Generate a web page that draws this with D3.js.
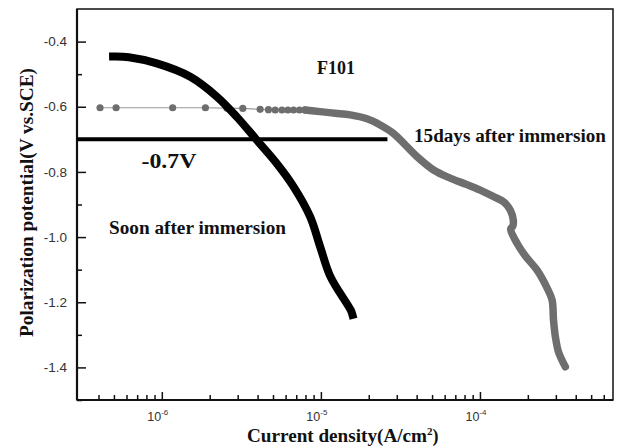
<!DOCTYPE html>
<html>
<head>
<meta charset="utf-8">
<script src="https://cdn.jsdelivr.net/npm/d3@7"></script>
<style>
  html, body { margin: 0; padding: 0; background: #fff; }
  svg { display: block; }
</style>
</head>
<body>
<svg id="chart" width="619" height="447"></svg>
<script>
// Polarization curves of F101: current density (A/cm²) vs. potential (V vs. SCE)

// Soon after immersion (black curve)
const soonCurrent = [4.94e-7, 6.2e-7, 9.3e-7, 1.51e-6, 2.22e-6, 2.96e-6, 3.95e-6, 5.28e-6, 6.73e-6, 8.57e-6, 9.9e-6, 1.15e-5, 1.54e-5, 1.58e-5];
const soonPotential = [-0.446, -0.448, -0.467, -0.508, -0.569, -0.631, -0.702, -0.774, -0.845, -0.938, -1.030, -1.122, -1.224, -1.239];

// 15 days after immersion: sparse measured points near the start
const lateDotCurrent = [4.09e-7, 5.16e-7, 1.17e-6, 1.88e-6, 2.56e-6, 3.23e-6, 4.15e-6, 4.68e-6, 5.16e-6, 5.69e-6, 6.20e-6, 6.73e-6, 7.33e-6, 7.96e-6];
const lateDotPotential = [-0.603, -0.603, -0.603, -0.603, -0.604, -0.605, -0.608, -0.609, -0.610, -0.610, -0.610, -0.610, -0.610, -0.610];

// 15 days after immersion: dense part of the curve
const lateCurrent = [7.96e-6, 9.89e-6, 1.23e-5, 1.53e-5, 1.95e-5, 2.36e-5, 2.86e-5, 3.39e-5, 4.02e-5, 5.11e-5, 6.50e-5, 8.28e-5, 1.004e-4, 1.22e-4, 1.41e-4, 1.55e-4, 1.62e-4, 1.61e-4, 1.56e-4, 1.71e-4, 1.93e-4, 2.28e-4, 2.64e-4, 2.84e-4, 2.90e-4, 2.98e-4, 3.12e-4, 3.44e-4];
const latePotential = [-0.610, -0.615, -0.620, -0.625, -0.637, -0.656, -0.682, -0.717, -0.753, -0.794, -0.819, -0.839, -0.856, -0.876, -0.892, -0.917, -0.948, -0.966, -0.975, -1.019, -1.058, -1.101, -1.156, -1.193, -1.255, -1.306, -1.353, -1.398];

// Reference potential line at -0.7 V
const refPotential = -0.7;
const refCurrentRange = [2.93e-7, 2.62e-5];

// Axis ticks
const yMajorTicks = [-0.4, -0.6, -0.8, -1.0, -1.2, -1.4];
const yMinorTicks = [-0.5, -0.7, -0.9, -1.1, -1.3, -1.5];
const xMajorExponents = [-6, -5, -4];
const xMinorTicks = [4e-7, 5e-7, 6e-7, 7e-7, 8e-7, 9e-7,
  2e-6, 3e-6, 4e-6, 5e-6, 6e-6, 7e-6, 8e-6, 9e-6,
  2e-5, 3e-5, 4e-5, 5e-5, 6e-5, 7e-5, 8e-5, 9e-5,
  2e-4, 3e-4, 4e-4, 5e-4, 6e-4];

const svg = d3.select("#chart");
const plotLeft = 77, plotRight = 613, plotTop = 9, plotBottom = 400;

const x = d3.scaleLog().domain([2.93e-7, 6.86e-4]).range([plotLeft, plotRight]);
const y = d3.scaleLinear().domain([-1.5, -0.3]).range([plotBottom, plotTop]);

const serif = "'Liberation Serif', 'Times New Roman', serif";
const sans = "'Liberation Sans', Arial, sans-serif";

// Frame
svg.append("rect")
  .attr("x", plotLeft).attr("y", plotTop)
  .attr("width", plotRight - plotLeft).attr("height", plotBottom - plotTop)
  .attr("fill", "none").attr("stroke", "#111").attr("stroke-width", 1.5);

// Y axis (ticks point inward)
const yAxis = svg.append("g").attr("transform", `translate(${plotLeft},0)`)
  .call(d3.axisRight(y).tickValues(yMajorTicks).tickSize(9).tickFormat(""));
yAxis.select(".domain").remove();
yAxis.selectAll("line").attr("stroke", "#111").attr("stroke-width", 1.5);

const yMinor = svg.append("g").attr("transform", `translate(${plotLeft},0)`)
  .call(d3.axisRight(y).tickValues(yMinorTicks).tickSize(5).tickFormat(""));
yMinor.select(".domain").remove();
yMinor.selectAll("line").attr("stroke", "#111").attr("stroke-width", 1.5);

svg.append("g").selectAll("text").data(yMajorTicks).join("text")
  .attr("x", plotLeft - 10).attr("y", d => y(d))
  .attr("dy", "0.35em").attr("text-anchor", "end")
  .attr("font-family", sans).attr("font-size", 13.5).attr("fill", "#333")
  .text(d => d3.format(".1f")(d).replace("−", "-"));

// X axis (ticks point inward)
const xMajor = xMajorExponents.map(e => Math.pow(10, e));
const xAxis = svg.append("g").attr("transform", `translate(0,${plotBottom})`)
  .call(d3.axisTop(x).tickValues(xMajor).tickSize(8).tickFormat(""));
xAxis.select(".domain").remove();
xAxis.selectAll("line").attr("stroke", "#111").attr("stroke-width", 1.5);

const xMin = svg.append("g").attr("transform", `translate(0,${plotBottom})`)
  .call(d3.axisTop(x).tickValues(xMinorTicks).tickSize(5).tickFormat(""));
xMin.select(".domain").remove();
xMin.selectAll("line").attr("stroke", "#111").attr("stroke-width", 1.5);

const xLabels = svg.append("g").selectAll("text").data(xMajorExponents).join("text")
  .attr("x", d => x(Math.pow(10, d)) - 4).attr("y", 421)
  .attr("text-anchor", "middle")
  .attr("font-family", sans).attr("font-size", 12.5).attr("fill", "#333");
xLabels.append("tspan").text("10");
xLabels.append("tspan").attr("dy", -6).attr("font-size", 8).text(d => "-" + Math.abs(d));

// Left and bottom axis lines, a bit heavier
svg.append("line").attr("x1", plotLeft).attr("x2", plotLeft).attr("y1", plotTop).attr("y2", plotBottom)
  .attr("stroke", "#111").attr("stroke-width", 2.2);
svg.append("line").attr("x1", plotLeft).attr("x2", plotRight).attr("y1", plotBottom).attr("y2", plotBottom)
  .attr("stroke", "#111").attr("stroke-width", 2.2);

// Axis titles
svg.append("text")
  .attr("transform", `translate(33,${202.5}) rotate(-90)`)
  .attr("text-anchor", "middle")
  .attr("font-family", serif).attr("font-weight", "bold").attr("font-size", 19).attr("fill", "#111")
  .attr("textLength", 269).attr("lengthAdjust", "spacingAndGlyphs")
  .text("Polarization potential(V vs.SCE)");

const xTitle = svg.append("text")
  .attr("x", 247).attr("y", 442)
  .attr("font-family", serif).attr("font-weight", "bold").attr("font-size", 18).attr("fill", "#111");
xTitle.append("tspan").attr("textLength", 180).attr("lengthAdjust", "spacingAndGlyphs").text("Current density(A/cm");
xTitle.append("tspan").attr("dy", -7).attr("font-size", 11).text("2");
xTitle.append("tspan").attr("dy", 7).text(")");

// Reference line at -0.7 V
svg.append("line")
  .attr("x1", x(refCurrentRange[0])).attr("x2", x(refCurrentRange[1]))
  .attr("y1", y(refPotential)).attr("y2", y(refPotential))
  .attr("stroke", "#000").attr("stroke-width", 4);

const line = d3.line().x(d => x(d[0])).y(d => y(d[1]));

// 15 days after immersion: thin connector + dots, then the dense thick part
const lateDots = lateDotCurrent.map((c, i) => [c, lateDotPotential[i]]);
svg.append("path").datum(lateDots)
  .attr("d", line).attr("fill", "none").attr("stroke", "#9a9a9a").attr("stroke-width", 1.2);
svg.append("g").selectAll("circle").data(lateDots).join("circle")
  .attr("cx", d => x(d[0])).attr("cy", d => y(d[1])).attr("r", 3.6)
  .attr("fill", "#6e6e6e");

const lateDense = lateCurrent.map((c, i) => [c, latePotential[i]]);
svg.append("path").datum(lateDense)
  .attr("d", d3.line().x(d => x(d[0])).y(d => y(d[1])).curve(d3.curveCatmullRom.alpha(0.5)))
  .attr("fill", "none").attr("stroke", "#6e6e6e").attr("stroke-width", 7.5)
  .attr("stroke-linecap", "round").attr("stroke-linejoin", "round");

// Soon after immersion: thick black curve
const soon = soonCurrent.map((c, i) => [c, soonPotential[i]]);
svg.append("path").datum(soon)
  .attr("d", d3.line().x(d => x(d[0])).y(d => y(d[1])).curve(d3.curveCatmullRom.alpha(0.5)))
  .attr("fill", "none").attr("stroke", "#000").attr("stroke-width", 8)
  .attr("stroke-linecap", "square").attr("stroke-linejoin", "round");

// Annotations
const notes = [
  { text: "F101", x: 317, y: 74, size: 18, len: 38 },
  { text: "15days after immersion", x: 414, y: 141.5, size: 18, len: 192 },
  { text: "-0.7V", x: 141.5, y: 167.5, size: 22, len: 55 },
  { text: "Soon after immersion", x: 109, y: 233.5, size: 18, len: 177 }
];
svg.append("g").selectAll("text").data(notes).join("text")
  .attr("x", d => d.x).attr("y", d => d.y)
  .attr("font-family", serif).attr("font-weight", "bold")
  .attr("font-size", d => d.size).attr("fill", "#111")
  .attr("textLength", d => d.len).attr("lengthAdjust", "spacingAndGlyphs")
  .text(d => d.text);
</script>
</body>
</html>
